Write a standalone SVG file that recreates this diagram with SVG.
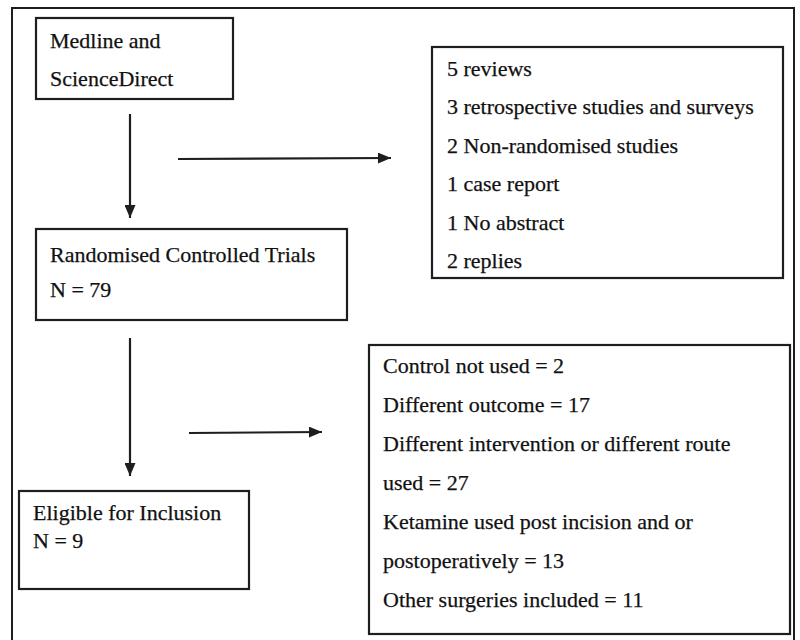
<svg xmlns="http://www.w3.org/2000/svg" width="800" height="640" viewBox="0 0 800 640">
<style>
.box{fill:#fff;stroke:#1e1e1e;stroke-width:2.2}
.frame{fill:none;stroke:#1e1e1e;stroke-width:2}
.t{font-family:"Liberation Serif","Times New Roman",serif;font-size:22px;fill:#111;stroke:#111;stroke-width:0.25}
.c{stroke:#1e1e1e;stroke-width:2.2;fill:none;marker-end:url(#ah)}
</style>
<defs>
<marker id="ah" viewBox="0 0 13 11" refX="13" refY="5.5" markerWidth="13" markerHeight="11" markerUnits="userSpaceOnUse" orient="auto">
<path d="M0,0 L13,5.5 L0,11 Z" fill="#1e1e1e"/>
</marker>
</defs>
<rect width="800" height="640" fill="#fff"/>
<rect class="frame" x="12" y="8" width="782" height="640"/>
<g id="connectors">
<line class="c" x1="130" y1="114" x2="130" y2="218"/>
<line class="c" x1="178" y1="159" x2="391" y2="158"/>
<line class="c" x1="130" y1="338" x2="130" y2="476"/>
<line class="c" x1="189" y1="433" x2="322" y2="432"/>
</g>
<g id="medline">
<rect class="box" x="36" y="18" width="197" height="81"/>
<text class="t" x="50" y="48">Medline and</text>
<text class="t" x="50" y="86">ScienceDirect</text>
</g>
<g id="rct">
<rect class="box" x="36" y="229" width="311" height="91"/>
<text class="t" x="50" y="262">Randomised Controlled Trials</text>
<text class="t" x="50" y="297">N = 79</text>
</g>
<g id="excluded1">
<rect class="box" x="432" y="47" width="351" height="231"/>
<text class="t" x="447" y="76">5 reviews</text>
<text class="t" x="447" y="114">3 retrospective studies and surveys</text>
<text class="t" x="447" y="153">2 Non-randomised studies</text>
<text class="t" x="447" y="191">1 case report</text>
<text class="t" x="447" y="230">1 No abstract</text>
<text class="t" x="447" y="268">2 replies</text>
</g>
<g id="eligible">
<rect class="box" x="19" y="491" width="230" height="98"/>
<text class="t" x="33" y="520">Eligible for Inclusion</text>
<text class="t" x="33" y="548">N = 9</text>
</g>
<g id="excluded2">
<rect class="box" x="369" y="345" width="421" height="289"/>
<text class="t" x="383" y="373">Control not used = 2</text>
<text class="t" x="383" y="412">Different outcome = 17</text>
<text class="t" x="383" y="451">Different intervention or different route</text>
<text class="t" x="383" y="490">used = 27</text>
<text class="t" x="383" y="529">Ketamine used post incision and or</text>
<text class="t" x="383" y="568">postoperatively = 13</text>
<text class="t" x="383" y="607">Other surgeries included = 11</text>
</g>
</svg>
